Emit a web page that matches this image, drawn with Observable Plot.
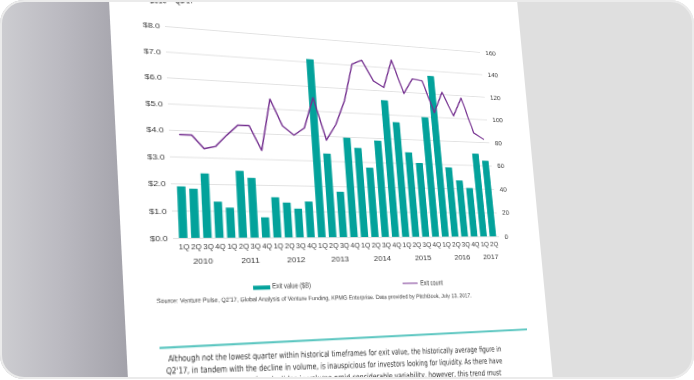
<!DOCTYPE html>
<html><head><meta charset="utf-8">
<script src="https://cdn.jsdelivr.net/npm/d3@7"></script>
<script src="https://cdn.jsdelivr.net/npm/@observablehq/plot@0.6"></script>
<style>
html,body{margin:0;padding:0;background:#fff;width:694px;height:380px;overflow:hidden;font-family:"Liberation Sans",Arial,sans-serif;}
#frame{position:absolute;left:0;top:0;width:694px;height:379px;border-radius:24px;overflow:hidden;background:#dfdfdf;}
#shade{position:absolute;left:0;top:0;width:694px;height:380px;background:linear-gradient(to right,#cdcdd1 0px,#bbbac1 60px,#a3a2aa 128px);clip-path:polygon(0 0,112px 0,130px 380px,0 380px);}
#paper{position:absolute;left:0;top:0;width:694px;height:380px;background:#fff;clip-path:polygon(109px 0,517px 0,553px 380px,128px 380px);}
#content{position:absolute;left:0;top:0;width:694px;height:440px;transform-origin:0 0;}
#rim{position:absolute;left:0;top:0;width:694px;height:379px;box-sizing:border-box;border:2px solid #ebebeb;border-radius:24px;pointer-events:none;}
.t{position:absolute;white-space:nowrap;line-height:1;transform-origin:0 0;}
</style></head>
<body>
<div id="frame">
  <div id="shade"></div>
  <div id="paper"></div>
  <div id="content"></div>
</div>
<div id="rim"></div>
<script>
// ---------- data ----------
const quarterLabels = ["1Q","2Q","3Q","4Q","1Q","2Q","3Q","4Q","1Q","2Q","3Q","4Q","1Q","2Q","3Q","4Q","1Q","2Q","3Q","4Q","1Q","2Q","3Q","4Q","1Q","2Q","3Q","4Q","1Q","2Q"];
const quarterYears = [2010,2010,2010,2010,2011,2011,2011,2011,2012,2012,2012,2012,2013,2013,2013,2013,2014,2014,2014,2014,2015,2015,2015,2015,2016,2016,2016,2016,2017,2017];
const exitValueB = [1.89,1.81,2.39,1.34, 1.12,2.52,2.26,0.76, 1.53,1.33,1.10,1.38, 7.11,3.29,1.78,3.96, 3.56,2.77,3.89,5.59, 4.69,3.45,3.02,4.96, 6.76,2.87,2.33,2.02, 3.49,3.20];
const exitCount = [77,77,67,69, 78,86,86,67, 108,87,80,86, 111,77,90,110, 141,145,128,123, 147,119,132,131, 104,122,102,118, 88,83];
const leftTicks = [0,1,2,3,4,5,6,7,8];
const rightTicks = [0,20,40,60,80,100,120,140,160];
const countPerDollar = 20;
const seriesNames = ["Exit value ($B)","Exit count"];
const sourceText = "Source: Venture Pulse, Q2'17, Global Analysis of Venture Funding, KPMG Enterprise. Data provided by PitchBook, July 13, 2017.";
const titleTail = "2010 – Q2'17";
const paragraph = [
  "Although not the lowest quarter within historical timeframes for exit value, the historically average figure in",
  "Q2'17, in tandem with the decline in volume, is inauspicious for investors looking for liquidity. As there have",
  "been a couple quarters of such slides in volume amid considerable variability, however, this trend must"
];

// ---------- colours ----------
const TEAL = "#03a29b", PURPLE = "#742f8f", INK = "#3a3a3a";

// ---------- flat chart ----------
const W = 540, H = 280, L = 165, R = 495, T = 26, B = 238;
const data = exitValueB.map((v,i)=>({key: quarterLabels[i]+" "+quarterYears[i], year: quarterYears[i], value: v, count: exitCount[i]}));
const pad = 0.3, insetL = 2, insetR = 0;
const step = (R - L - insetL - insetR) / (data.length - pad + 2*pad);
const yearRows = d3.groups(data, d=>d.year).map(([yr, rows]) => ({year: String(yr), key: rows[Math.floor((rows.length-1)/2)].key}));

const chart = Plot.plot({
  width: W, height: H,
  marginLeft: L, marginRight: W - R, marginTop: T, marginBottom: H - B,
  style: {fontFamily: "'Liberation Sans', Arial, sans-serif", fontSize: "8px", color: INK, background: "transparent", overflow: "visible"},
  x: {domain: data.map(d=>d.key), padding: pad, insetLeft: insetL, insetRight: insetR, round: false, label: null},
  y: {domain: [0, 8], label: null},
  marks: [
    Plot.gridY(leftTicks, {stroke: "#e2e2e2", strokeOpacity: 1, strokeWidth: 1}),
    Plot.barY(data, {x: "key", y: "value", fill: TEAL}),
    Plot.lineY(data, {x: "key", y: d => d.count / countPerDollar, stroke: PURPLE, strokeWidth: 1.4}),
    Plot.axisY(leftTicks, {anchor: "left", label: null, tickSize: 0, tickPadding: 5, fontSize: 8, tickFormat: d => "$" + d.toFixed(1)}),
    Plot.axisY(rightTicks.map(c => c / countPerDollar), {anchor: "right", label: null, tickSize: 0, tickPadding: 6, fontSize: 7.5, tickFormat: d => String(Math.round(d * countPerDollar))}),
    Plot.axisX({label: null, tickSize: 0, tickPadding: 6, fontSize: 7, tickFormat: k => k.split(" ")[0]}),
    Plot.text(yearRows, {x: "key", text: "year", frameAnchor: "bottom", dy: 24, dx: step/2, fontSize: 8, fill: INK})
  ]
});
chart.style.position = "absolute";
chart.style.left = "0px";
chart.style.top = "0px";
const content = document.getElementById("content");
content.appendChild(chart);

// ---------- perspective (homography) ----------
function solveH(src, dst){
  const A=[], b=[];
  for(let i=0;i<4;i++){
    const [x,y]=src[i],[u,v]=dst[i];
    A.push([x,y,1,0,0,0,-u*x,-u*y]); b.push(u);
    A.push([0,0,0,x,y,1,-v*x,-v*y]); b.push(v);
  }
  const n=8;
  for(let c=0;c<n;c++){
    let p=c; for(let r=c+1;r<n;r++) if(Math.abs(A[r][c])>Math.abs(A[p][c])) p=r;
    [A[c],A[p]]=[A[p],A[c]]; [b[c],b[p]]=[b[p],b[c]];
    for(let r=0;r<n;r++){ if(r===c) continue; const f=A[r][c]/A[c][c]; for(let k=c;k<n;k++) A[r][k]-=f*A[c][k]; b[r]-=f*b[c]; }
  }
  return b.map((v,i)=>v/A[i][i]);
}
const flatQuad = [[L,T],[R,T],[R,B],[L,B]];
const shotQuad = [[165,26],[480,52],[499,236.3],[173,238]];
const h = solveH(flatQuad, shotQuad);
const hi = solveH(shotQuad, flatQuad);
content.style.transform = `matrix3d(${h[0]},${h[3]},0,${h[6]},${h[1]},${h[4]},0,${h[7]},0,0,1,0,${h[2]},${h[5]},0,1)`;
function inv(p){ const [x,y]=p; const w=hi[6]*x+hi[7]*y+1; return [(hi[0]*x+hi[1]*y+hi[2])/w,(hi[3]*x+hi[4]*y+hi[5])/w]; }

function placeText(txt, s, e, size, opts={}){
  const el=document.createElement("div"); el.className="t"; el.textContent=txt;
  el.style.fontSize=size+"px"; el.style.color=opts.color||INK;
  if(opts.family) el.style.fontFamily=opts.family;
  if(opts.weight) el.style.fontWeight=opts.weight;
  content.appendChild(el);
  const p0=inv(s), p1=inv(e);
  const len=Math.hypot(p1[0]-p0[0],p1[1]-p0[1]), ang=Math.atan2(p1[1]-p0[1],p1[0]-p0[0]);
  const w=el.getBoundingClientRect().width;
  el.style.left=p0[0]+"px"; el.style.top=p0[1]+"px";
  el.style.transform=`rotate(${ang}rad) scaleX(${len/w}) translateY(-50%)`;
}
function placeBar(s, e, thick, color){
  const el=document.createElement("div"); el.className="t";
  const p0=inv(s), p1=inv(e);
  const len=Math.hypot(p1[0]-p0[0],p1[1]-p0[1]), ang=Math.atan2(p1[1]-p0[1],p1[0]-p0[0]);
  el.style.width=len+"px"; el.style.height=thick+"px"; el.style.background=color;
  el.style.left=p0[0]+"px"; el.style.top=p0[1]+"px";
  el.style.transform=`rotate(${ang}rad) translateY(-50%)`;
  content.appendChild(el);
}

// title fragment (cut off at top)
placeText(titleTail, [150,-0.5], [204,-0.5], 11, {color:"#333"});
// legend
placeBar([253,287.3],[270,286.8], 3.6, TEAL);
placeText(seriesNames[0], [272,286.2], [320,285.6], 7.5);
placeBar([403,284],[418,283.7], 1.3, PURPLE);
placeText(seriesNames[1], [420,283.5], [448,283], 7.5);
// source
placeText(sourceText, [157,300.5], [497,294.5], 6);
// teal rule
placeBar([160,347.5],[527,329], 1.6, "#58c5bf");
// paragraph
const narrow = "'Liberation Sans Narrow','DejaVu Sans Condensed','Liberation Sans',Arial,sans-serif";
placeText(paragraph[0], [168,359.5], [522,349], 8, {family: narrow, color:"#2e2e2e"});
placeText(paragraph[1], [166,371.5], [523,360.5], 8, {family: narrow, color:"#2e2e2e"});
placeText(paragraph[2], [164,383.5], [524,372], 8, {family: narrow, color:"#2e2e2e"});
</script>
</body></html>
